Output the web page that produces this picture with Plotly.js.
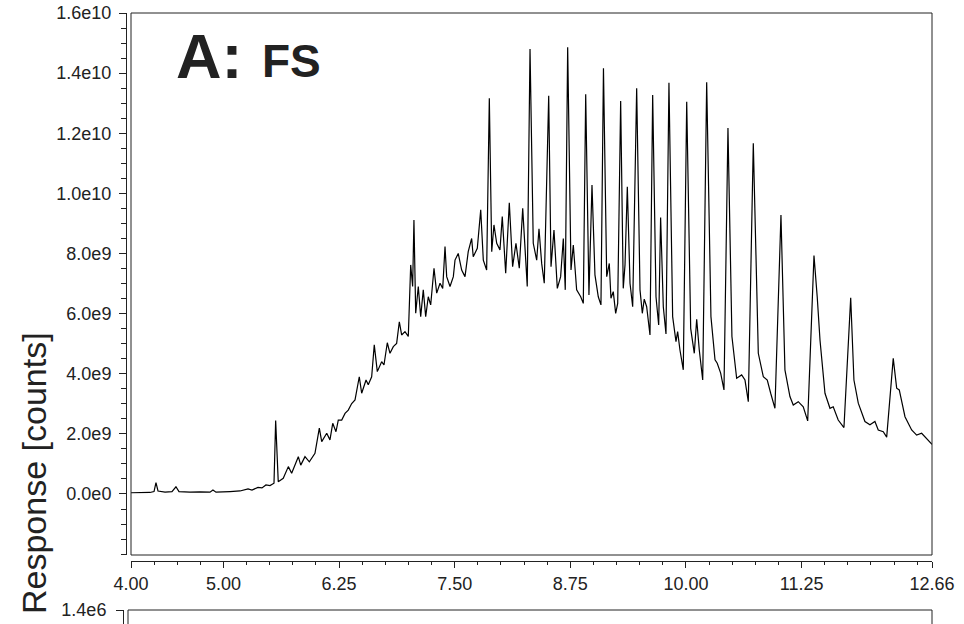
<!DOCTYPE html>
<html>
<head>
<meta charset="utf-8">
<script src="https://cdn.plot.ly/plotly-3.0.1.min.js"></script>
<style>
html,body{margin:0;padding:0;background:#fff;overflow:hidden;}
#chart{width:964px;height:624px;}
</style>
</head>
<body>
<div id="chart"></div>
<script>
// Retention time (min) and response (units of 1e9 counts)
const retentionTime = [4.000,4.097,4.205,4.249,4.270,4.292,4.368,4.443,4.486,4.519,4.638,4.746,4.854,4.886,4.919,5.070,5.178,5.265,5.308,5.373,5.416,5.459,5.503,5.546,
5.564,5.592,5.646,5.701,5.737,5.809,5.835,5.881,5.928,5.989,6.036,6.062,6.116,6.151,6.181,6.216,6.241,6.278,6.314,6.349,6.386,6.422,6.468,6.494,6.541,6.565,6.602,6.630,6.663,6.710,6.735,6.771,6.800,6.836,6.872,6.901,6.926,6.962,6.998,7.024,7.045,7.059,7.078,7.106,7.132,7.160,7.186,7.214,7.240,7.276,7.305,7.341,7.370,
7.395,7.413,7.449,7.485,7.503,7.538,7.575,7.611,7.646,7.683,7.700,7.744,7.781,7.809,7.845,7.874,7.900,7.924,7.954,7.989,8.014,8.051,8.090,8.126,8.162,8.198,8.235,
8.284,8.314,8.349,8.386,8.411,8.440,8.468,8.516,8.541,8.573,8.609,8.645,8.674,8.695,8.721,8.757,8.782,8.818,8.862,8.890,8.916,8.951,8.984,9.016,9.052,9.081,
9.108,9.143,9.171,9.189,9.214,9.240,9.262,9.294,9.322,9.341,9.366,9.395,9.424,9.467,9.503,9.528,9.549,9.575,9.611,9.640,9.676,9.705,9.726,9.755,9.784,9.816,9.856,9.892,9.910,9.935,9.971,
10.008,10.051,10.090,10.116,10.144,10.181,10.224,10.270,10.314,10.338,10.375,10.411,10.454,10.497,10.548,10.602,10.638,10.674,10.728,10.782,10.836,10.879,10.916,10.962,
11.027,11.070,11.124,11.160,11.214,11.268,11.316,11.384,11.419,11.449,11.503,11.557,11.592,11.646,11.708,11.781,11.816,11.863,11.935,11.989,12.043,12.079,12.133,12.170,12.241,12.278,12.306,12.368,12.440,12.494,12.548,12.603,12.660];

const responseE9 = [0.04,0.05,0.05,0.08,0.38,0.10,0.06,0.08,0.24,0.08,0.06,0.07,0.06,0.13,0.06,0.08,0.10,0.17,0.13,0.22,0.20,0.30,0.28,0.36,
2.44,0.41,0.52,0.91,0.69,1.24,0.96,1.24,1.07,1.35,2.19,1.74,2.02,1.80,2.35,2.07,2.46,2.46,2.68,2.79,3.01,3.13,3.90,3.35,3.79,3.63,3.90,4.96,4.07,4.40,4.29,5.03,4.68,4.90,5.01,5.73,5.29,5.40,5.24,7.62,6.90,9.11,6.01,6.90,5.90,6.79,5.90,6.56,6.29,7.51,6.68,7.01,6.84,
8.23,7.23,6.90,7.23,7.78,8.00,7.45,7.23,8.06,8.50,7.89,8.17,9.45,7.78,7.45,13.16,8.06,8.95,8.34,8.12,9.23,7.34,9.69,7.56,8.34,7.51,9.50,
6.90,14.80,8.34,7.78,8.82,7.67,7.01,13.25,7.56,8.78,6.84,7.23,8.50,6.79,14.86,7.45,8.28,6.79,6.56,6.34,13.30,6.62,10.28,7.29,6.56,6.29,
14.16,7.23,7.67,6.51,6.73,6.01,6.34,13.07,6.84,7.62,10.22,7.01,6.23,13.50,6.79,6.01,6.48,6.23,5.29,13.27,6.56,5.62,9.20,6.23,5.32,13.68,5.90,5.07,5.40,4.79,4.13,
13.05,5.51,4.68,5.81,4.79,3.79,13.70,5.90,4.46,4.35,4.02,3.46,12.17,5.24,3.85,3.96,3.79,3.07,11.67,4.68,3.90,3.79,3.35,2.85,
9.28,4.13,3.24,2.96,3.07,2.90,2.43,7.93,6.56,5.12,3.35,2.85,2.90,2.46,2.21,6.53,3.79,3.02,2.41,2.30,2.41,2.13,2.07,1.89,4.51,3.52,3.46,2.57,2.13,1.96,2.02,1.82,1.65];

const xTickVals = [4, 5, 6.25, 7.5, 8.75, 10, 11.25, 12.66];
const xTickText = ["4.00","5.00","6.25","7.50","8.75","10.00","11.25","12.66"];
const yTickVals = [0, 2, 4, 6, 8, 10, 12, 14, 16];
const yTickText = ["0.0e0","2.0e9","4.0e9","6.0e9","8.0e9","1.0e10","1.2e10","1.4e10","1.6e10"];
const panelBTickVals = [1.4];
const panelBTickText = ["1.4e6"];

// layout helpers (pixel -> paper)
const W = 964, H = 624, ML = 123, MR = 32, MT = 13, MB = 0;
const PW = W - ML - MR, PH = H - MT - MB;
const px = v => (v - ML) / PW;
const py = v => (H - MB - v) / PH;

const FONT = "Liberation Sans, Arial, Helvetica, sans-serif";
const INK = "#222";
const TICKFONT = {family: FONT, size: 18, color: INK};

const traces = [
  {x: retentionTime, y: responseE9, type: "scatter", mode: "lines",
   line: {color: "#000", width: 1.2}, xaxis: "x", yaxis: "y", hoverinfo: "skip"},
  {x: [], y: [], type: "scatter", mode: "lines", xaxis: "x2", yaxis: "y2", hoverinfo: "skip"}
];

const layout = {
  width: W, height: H,
  margin: {l: ML, r: MR, t: MT, b: MB, pad: 0},
  paper_bgcolor: "#fff", plot_bgcolor: "#fff",
  showlegend: false,
  font: {family: FONT, color: INK, size: 18},
  xaxis: {
    showgrid: false, zeroline: false, showline: true, linecolor: INK, linewidth: 1,
    ticks: "outside", tickcolor: INK, tickwidth: 1, tickfont: TICKFONT,
    domain: [px(131), 1], anchor: "free", position: py(561),
    range: [4, 12.66], tickmode: "array", tickvals: xTickVals, ticktext: xTickText, ticklen: 6,
    minor: {tickmode: "linear", tick0: 4, dtick: 0.25, ticks: "outside", ticklen: 3, tickcolor: INK, tickwidth: 1}
  },
  yaxis: {
    showgrid: false, zeroline: false, showline: true, linecolor: INK, linewidth: 1,
    ticks: "outside", tickcolor: INK, tickwidth: 1, tickfont: TICKFONT,
    domain: [py(555), 1], anchor: "free", position: px(126),
    range: [-2.03, 16], tickmode: "array", tickvals: yTickVals, ticktext: yTickText, ticklen: 7,
    ticklabelstandoff: 4,
    minor: {tickmode: "linear", tick0: 0, dtick: 0.5, ticks: "outside", ticklen: 5, tickcolor: INK, tickwidth: 1}
  },
  xaxis2: {domain: [px(128), 1], anchor: "y2", range: [4, 12.66], visible: false},
  yaxis2: {
    showgrid: false, zeroline: false, showline: true, linecolor: INK, linewidth: 1,
    ticks: "outside", tickcolor: INK, tickwidth: 1, tickfont: TICKFONT,
    domain: [0, py(610)], anchor: "free", position: 0,
    range: [1.2, 1.4], tickmode: "array", tickvals: panelBTickVals, ticktext: panelBTickText, ticklen: 7,
    ticklabelstandoff: 6
  },
  shapes: [
    {type: "rect", xref: "x domain", yref: "y domain", x0: 0, x1: 1, y0: 0, y1: 1,
     line: {color: INK, width: 1}, fillcolor: "rgba(0,0,0,0)", layer: "above"},
    {type: "rect", xref: "x2 domain", yref: "y2 domain", x0: 0, x1: 1, y0: -2, y1: 1,
     line: {color: INK, width: 1}, fillcolor: "rgba(0,0,0,0)", layer: "above"}
  ],
  annotations: [
    {text: "<b>A:</b>", xref: "paper", yref: "paper", x: px(174), y: py(56),
     xanchor: "left", yanchor: "middle", showarrow: false,
     font: {family: FONT, size: 63, color: INK}},
    {text: "<b>FS</b>", xref: "paper", yref: "paper", x: px(260), y: py(61),
     xanchor: "left", yanchor: "middle", showarrow: false,
     font: {family: FONT, size: 46, color: INK}},
    {text: "Response [counts]", xref: "paper", yref: "paper", x: px(34), y: py(473),
     xanchor: "center", yanchor: "middle", textangle: -90, showarrow: false,
     font: {family: FONT, size: 34, color: INK}}
  ]
};

Plotly.newPlot("chart", traces, layout, {displayModeBar: false, staticPlot: true});
</script>
</body>
</html>
